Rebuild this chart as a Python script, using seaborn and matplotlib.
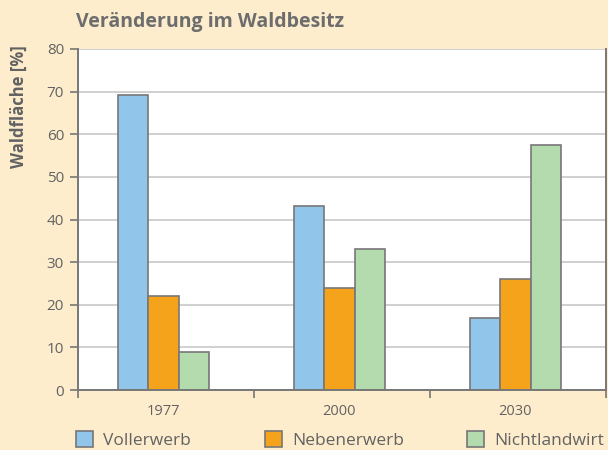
import matplotlib
matplotlib.use("Agg")
import matplotlib.pyplot as plt
import seaborn as sns
import pandas as pd
from matplotlib.patches import Patch
from matplotlib.ticker import FixedLocator

years = ["1977", "2000", "2030"]
series = ["Vollerwerb", "Nebenerwerb", "Nichtlandwirt"]
vollerwerb = [69.2, 43.2, 17.0]
nebenerwerb = [22.0, 24.0, 26.0]
nichtlandwirt = [8.9, 33.1, 57.4]
colors = ["#92C5EA", "#F6A31C", "#B3DBAD"]

rows = []
for s, vals in zip(series, [vollerwerb, nebenerwerb, nichtlandwirt]):
    for y, v in zip(years, vals):
        rows.append({"Jahr": y, "Art": s, "Wert": v})
df = pd.DataFrame(rows)

sns.set_theme(style="white")
plt.rcParams["font.family"] = ["Open Sans", "DejaVu Sans"]
bg = "#FDEDCD"
txt = "#626262"

fig = plt.figure(figsize=(6.08, 4.5), dpi=100, facecolor=bg)
ax = fig.add_axes([78/608, 1-390/450, (606-78)/608, (390-49)/450])
ax.set_facecolor("white")

sns.barplot(data=df, x="Jahr", y="Wert", hue="Art", order=years, hue_order=series,
            palette=colors, width=0.52, gap=0, edgecolor="#777777", linewidth=1.2,
            ax=ax, legend=False, saturation=1)

lo, hi = -0.485, 2.515
ax.set_xlim(lo, hi)
ax.set_ylim(0, 80)
ax.set_yticks(range(0, 81, 10))
ax.yaxis.grid(True, color="#c8c8c8", linewidth=1.2)
ax.set_axisbelow(True)
ax.tick_params(axis="y", left=True, length=6, width=1.2, color="#777777",
               labelsize=11, labelcolor=txt, pad=4)
ax.tick_params(axis="x", which="major", bottom=False, labelsize=10.5, labelcolor=txt, pad=4)
ax.xaxis.set_minor_locator(FixedLocator([lo, lo + 1, lo + 2, hi]))
ax.tick_params(axis="x", which="minor", bottom=True, length=6, width=1.2, color="#777777")
for side in ["left", "bottom", "right"]:
    ax.spines[side].set_color("#777777")
    ax.spines[side].set_linewidth(1.4)
ax.spines["top"].set_visible(False)
ax.set_xlabel("")
ax.set_ylabel("")
fig.text(19/608, 1-45/450, "Waldfläche [%]", rotation=90, fontsize=12, fontweight="bold",
         color=txt, ha="center", va="top")

fig.text(76/608, 1-22/450, "Veränderung im Waldbesitz", fontsize=14, fontweight="bold",
         color="#6d6d6d", va="center", ha="left")

xpos = [76, 265, 467]
for name, col, x in zip(series, colors, xpos):
    h = [Patch(facecolor=col, edgecolor="#777777", linewidth=1.2)]
    leg = fig.legend(h, [name], loc="center left", bbox_to_anchor=(x/608, 1-440/450),
                     frameon=False, fontsize=12.5, handlelength=1.0, handleheight=1.0,
                     handletextpad=0.55, borderaxespad=0, borderpad=0)
    for t in leg.get_texts():
        t.set_color(txt)

fig.savefig("out.png", dpi=100, facecolor=bg)
